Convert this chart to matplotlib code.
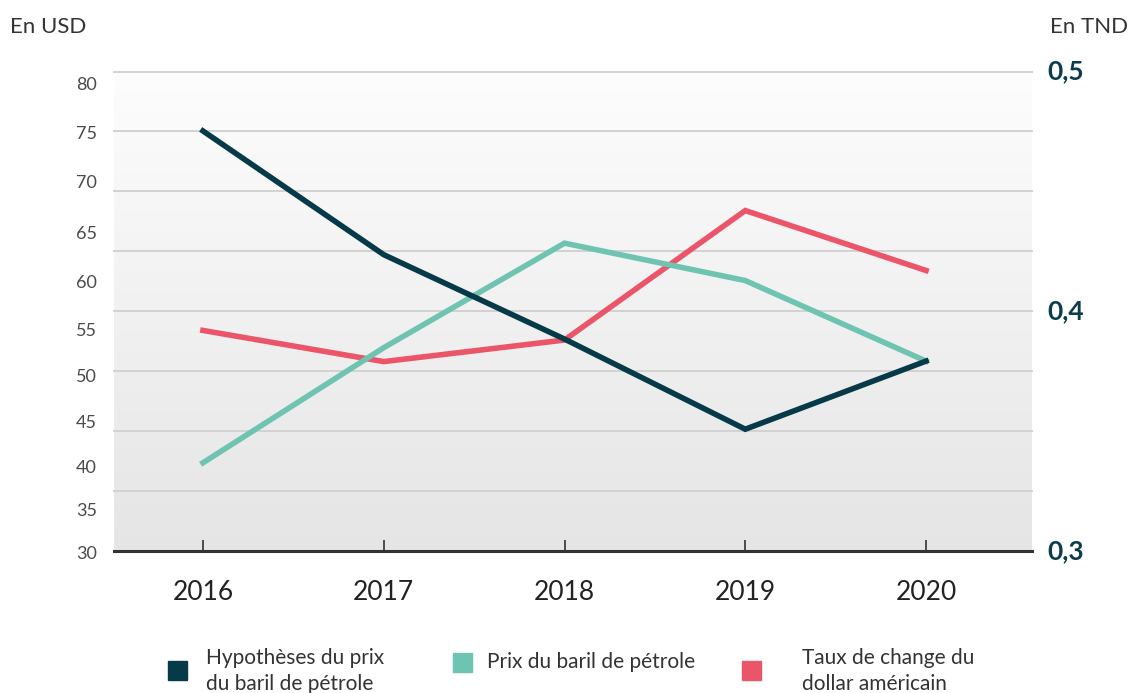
import numpy as np
import matplotlib
matplotlib.use("Agg")
import matplotlib.pyplot as plt
from matplotlib.colors import LinearSegmentedColormap

# ---- data ----
years = ["2016", "2017", "2018", "2019", "2020"]
hypotheses_prix = [73.8, 60.9, 52.1, 42.7, 49.8]      # USD (left axis)
prix_baril = [39.2, 51.2, 62.1, 58.2, 49.8]           # USD (left axis)
taux_change = [0.392, 0.379, 0.388, 0.442, 0.417]     # TND (right axis)
left_labels = ["80", "75", "70", "65", "60", "55", "50", "45", "40", "35", "30"]
right_ticks = [0.3, 0.4, 0.5]
right_labels = ["0,3", "0,4", "0,5"]
legend_labels = ["Hypothèses du prix\ndu baril de pétrole",
                 "Prix du baril de pétrole",
                 "Taux de change du\ndollar américain"]

# ---- style ----
C_DARK = "#073a49"
C_GREEN = "#6fc4b1"
C_RED = "#ea5569"
FONT = "Lato"
plt.rcParams["font.family"] = [FONT, "DejaVu Sans"]

W, H = 1128, 693
fig = plt.figure(figsize=(W / 100, H / 100), dpi=100)
fig.patch.set_facecolor("white")

x0, x1 = 114, 1032
y_top, y_bot = 71.5, 551
rect = [x0 / W, 1 - y_bot / H, (x1 - x0) / W, (y_bot - y_top) / H]

ax2 = fig.add_axes(rect)             # right axis (TND), behind
ax = fig.add_axes(rect, sharex=ax2)  # left axis (USD), in front
ax.set_zorder(ax2.get_zorder() + 1)
ax.patch.set_visible(False)

x = np.arange(len(years))

# background gradient
cmap = LinearSegmentedColormap.from_list("bg", ["#e5e5e5", "#fdfdfd"])
grad = np.linspace(0, 1, 256).reshape(-1, 1)
ax2.imshow(grad, extent=[0, 1, 0, 1], transform=ax2.transAxes, aspect="auto",
           cmap=cmap, origin="lower", zorder=0)
ax2.set_xlim(-0.492, 4.586)
ax2.set_ylim(0.3, 0.5)
ax.set_ylim(30, 80)

# gridlines
for gy in np.linspace(0.3, 0.5, 9)[1:]:
    ax2.axhline(gy, color="#d2d2d2", lw=1.4, zorder=1, clip_on=False)

# spines
for a in (ax, ax2):
    for s in ("top", "right", "left", "bottom"):
        a.spines[s].set_visible(False)
ax2.spines["bottom"].set_visible(True)
ax2.spines["bottom"].set_color("#333333")
ax2.spines["bottom"].set_linewidth(2.2)
ax2.spines["bottom"].set_zorder(3)

# lines
ax2.plot(x, taux_change, color=C_RED, lw=4.0, zorder=4, solid_joinstyle="miter")
ax.plot(x, prix_baril, color=C_GREEN, lw=4.0, zorder=4, solid_joinstyle="miter")
ax.plot(x, hypotheses_prix, color=C_DARK, lw=4.0, zorder=5, solid_joinstyle="miter")

# x ticks
ax2.set_xticks(x)
ax2.set_xticklabels(years)
ax2.tick_params(axis="x", direction="in", length=8, width=1.2, color="#333333",
                pad=21, labelsize=19, labelcolor="#222222")
ax.tick_params(axis="x", which="both", bottom=False, labelbottom=False)

# right axis labels
ax2.yaxis.tick_right()
ax2.set_yticks(right_ticks)
ax2.set_yticklabels(right_labels)
ax2.tick_params(axis="y", length=0, pad=11, labelsize=19, labelcolor="#0d3d4c")
for t in ax2.get_yticklabels():
    t.set_fontweight("bold")
    t.set_va("center")

# left labels (positioned as in the source, not aligned with the grid)
ax.set_yticks([])
left_label_y = [85, 134, 183, 234, 283, 331, 377, 423, 468, 511, 554]
for lab, py in zip(left_labels, left_label_y):
    fig.text(97 / W, 1 - py / H, lab, ha="right", va="center", fontsize=13,
             color="#4a4a4a")

# axis unit titles
fig.text(10 / W, 1 - 27 / H, "En USD", ha="left", va="center", fontsize=16,
         color="#333333")
fig.text(1050 / W, 1 - 27 / H, "En TND", ha="left", va="center", fontsize=16,
         color="#333333")

# legend
legend_colors = [C_DARK, C_GREEN, C_RED]
sq_x = [168, 453, 742]
sq_y = [670, 662, 670]
txt_x = [206, 487, 802]
txt_y = [671, 662, 671]
for lab, c, sx, sy, tx, ty in zip(legend_labels, legend_colors, sq_x, sq_y, txt_x, txt_y):
    fig.patches.append(plt.Rectangle((sx / W, 1 - (sy + 9.5) / H), 19 / W, 19 / H,
                                     transform=fig.transFigure, color=c, zorder=5))
    fig.text(tx / W, 1 - ty / H, lab, ha="left", va="center", fontsize=15,
             color="#333333", linespacing=1.35)

fig.savefig("out.png", dpi=100, facecolor="white")
